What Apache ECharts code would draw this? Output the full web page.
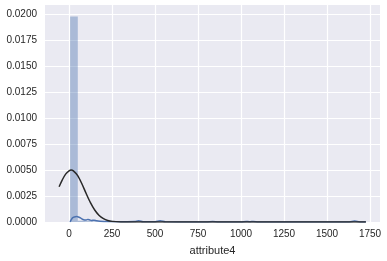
<!DOCTYPE html>
<html>
<head>
<meta charset="utf-8">
<script src="https://cdn.jsdelivr.net/npm/echarts@6/dist/echarts.min.js"></script>
<style>html,body{margin:0;padding:0;background:#fff}#c{width:387px;height:261px}</style>
</head>
<body>
<div id="c"></div>
<script>
// Histogram (density) bins
const binStart = 6;
const binWidth = 44.7;
const binDensity = [0.0198, 0.00012, 0.00008, 0.00005, 0.00003, 0.00002, 0.00002, 0.00001, 0.00003, 0.00002,
  0.00001, 0.00003, 0.00001, 0.00001, 0.00001, 0.00001, 0.00001, 0.00001, 0.00002, 0.00001,
  0.00001, 0.00001, 0.00002, 0.00002, 0.00001, 0.00001, 0.00001, 0.00001, 0.00001, 0.00001,
  0.00001, 0.00001, 0.00001, 0.00001, 0.00001, 0.00001, 0.00002, 0.00001];
// KDE curve
const kdeX = [6, 12, 20, 30, 44, 58, 70, 85, 100, 110, 120, 130, 145, 160, 180, 220, 280, 340, 380, 405, 430, 500, 530, 560, 700, 800, 835, 870, 1000, 1030, 1050, 1072, 1100, 1400, 1630, 1660, 1690, 1726];
const kdeY = [0, 0.0002, 0.0004, 0.00048, 0.00052, 0.00046, 0.00035, 0.00022, 0.0002, 0.00025, 0.0002, 0.00014, 0.00018, 0.00012, 0.00008, 0.00004, 0.00003, 0.00003, 0.00004, 0.00012, 0.00003, 0.00003, 0.00012, 0.00002, 0.00001, 0.00001, 0.00006, 0.00001, 0.00001, 0.00006, 0.00002, 0.00006, 0.00001, 0.00001, 0.00001, 0.00009, 0.00001, 0];
// Fitted normal curve
const fitX = [-58, -40, -20, 0, 12, 25, 50, 75, 100, 125, 150, 175, 200, 225, 250, 300, 350, 1726];
const fitY = [0.0034, 0.00404, 0.00461, 0.00493, 0.0050, 0.00492, 0.00446, 0.00366, 0.00272, 0.00184, 0.00113, 0.00063, 0.00032, 0.00014, 0.00006, 0.00001, 0, 0];
// Tick labels
const xTicks = [0, 250, 500, 750, 1000, 1250, 1500, 1750];
const yTicks = [0, 0.0025, 0.005, 0.0075, 0.01, 0.0125, 0.015, 0.0175, 0.02];
const xName = 'attribute4';

const histData = binDensity.map((d, i) => [binStart + i * binWidth, binStart + (i + 1) * binWidth, d]);
const chart = echarts.init(document.getElementById('c'));
const font = 'Liberation Sans, Arial, sans-serif';
chart.setOption({
  animation: false,
  grid: {left: 45, right: 7, top: 5, bottom: 37, show: true, backgroundColor: '#EAEAF2', borderWidth: 0},
  xAxis: {
    type: 'value', min: -140, max: 1808,
    axisLine: {show: false},
    axisTick: {show: false, customValues: xTicks},
    axisLabel: {customValues: xTicks, color: '#262626', fontSize: 10, fontFamily: font, margin: 7,
      formatter: v => String(v)},
    splitLine: {show: true, lineStyle: {color: '#ffffff', width: 1.2}},
    name: xName, nameLocation: 'middle', nameGap: 23,
    nameTextStyle: {color: '#262626', fontSize: 11, fontFamily: font}
  },
  yAxis: {
    type: 'value', min: 0, max: 0.0209,
    axisLine: {show: false},
    axisTick: {show: false, customValues: yTicks},
    axisLabel: {customValues: yTicks, color: '#262626', fontSize: 10, fontFamily: font, margin: 8,
      formatter: v => v.toFixed(4)},
    splitLine: {show: true, lineStyle: {color: '#ffffff', width: 1.2}}
  },
  series: [
    {
      type: 'custom',
      data: histData,
      encode: {x: [0, 1], y: 2},
      renderItem: function (params, api) {
        const p0 = api.coord([api.value(0), 0]);
        const p1 = api.coord([api.value(1), api.value(2)]);
        return {type: 'rect', shape: {x: p0[0], y: p1[1], width: p1[0] - p0[0], height: p0[1] - p1[1]},
          style: {fill: 'rgba(76,114,176,0.4)'}};
      },
      z: 1
    },
    {
      type: 'line', data: kdeX.map((x, i) => [x, kdeY[i]]), showSymbol: false, smooth: 0.3,
      lineStyle: {color: '#4C72B0', width: 1.5}, z: 2
    },
    {
      type: 'line', data: fitX.map((x, i) => [x, fitY[i]]), showSymbol: false, smooth: 0.3,
      lineStyle: {color: '#282828', width: 1.5}, z: 3
    }
  ]
});
</script>
</body>
</html>
